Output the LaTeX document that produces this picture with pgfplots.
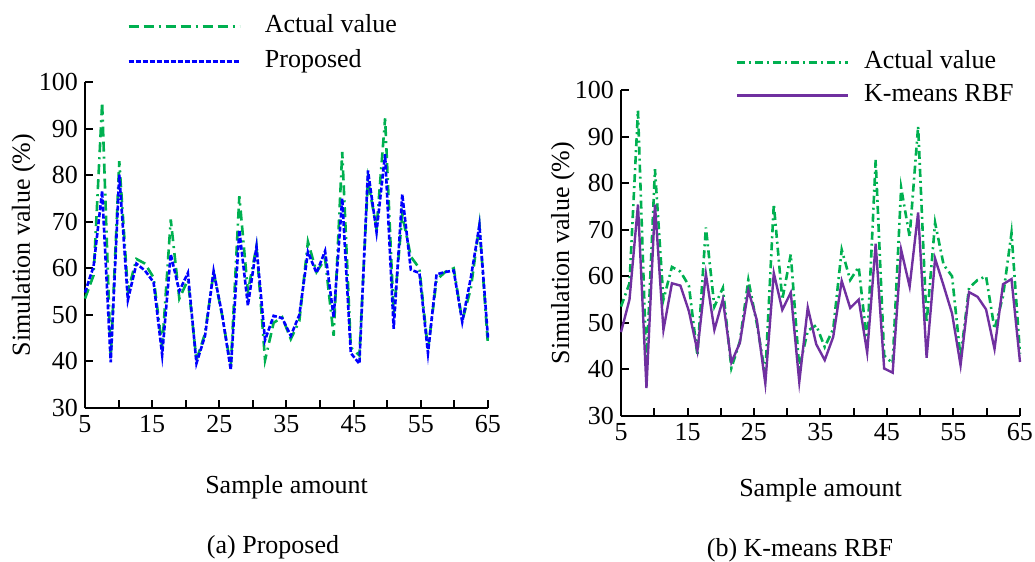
\documentclass[border=0pt]{standalone}
\usepackage{fontspec}
\setmainfont{Liberation Serif}
\usepackage{pgfplots}
\usepackage{pgfplotstable}
\pgfplotsset{compat=1.18}
\definecolor{actgreen}{RGB}{0,176,80}
\definecolor{propblue}{RGB}{0,0,255}
\definecolor{kpurple}{RGB}{112,48,160}
\pgfplotstableread{
x A P K
5.000 53.5 54.8 48.0
6.277 58.5 60.4 55.0
7.553 95.6 76.6 75.4
8.830 40.8 39.8 36.0
10.106 83.0 80.1 75.4
11.383 55.0 53.2 48.5
12.660 62.0 61.0 58.5
13.936 61.0 59.5 58.0
15.213 58.0 57.0 52.5
16.489 43.0 41.4 44.0
17.766 70.5 63.0 60.5
19.043 53.5 55.1 48.5
20.319 57.5 59.0 55.0
21.596 40.3 39.6 41.5
22.872 46.0 45.5 45.7
24.149 59.2 59.4 57.0
25.426 49.8 50.0 50.6
26.702 38.9 38.2 37.0
27.979 75.5 68.2 60.7
29.255 55.0 52.0 52.8
30.532 64.7 64.6 56.5
31.809 40.3 44.6 37.3
33.085 48.3 49.8 53.3
34.362 49.5 49.3 45.4
35.638 44.8 45.5 42.0
36.915 48.7 50.0 47.0
38.191 65.7 63.5 59.0
39.468 59.2 59.0 53.2
40.745 62.0 63.7 55.0
42.021 45.5 49.5 43.6
43.298 85.0 75.0 67.0
44.574 43.0 41.8 40.2
45.851 41.3 39.5 39.3
47.128 79.0 81.0 65.7
48.404 68.5 67.8 57.8
49.681 92.2 84.5 73.7
50.957 50.0 47.0 42.5
52.234 71.5 75.9 63.8
53.511 62.5 59.7 58.0
54.787 60.0 59.0 52.0
56.064 42.5 41.8 40.9
57.340 57.5 58.7 56.6
58.617 59.2 59.2 55.6
59.894 60.0 59.5 52.9
61.170 48.7 48.5 44.4
62.447 55.7 58.0 58.3
63.723 69.3 69.2 59.4
65.000 43.4 45.0 41.6
}\datatable
\pgfplotsset{
  mystyle/.style={
    scale only axis,
    axis lines=left,
    axis line style={black, line width=1.2pt, -},
    xmin=5, xmax=65, ymin=30, ymax=100,
    xtick={5,15,...,65},
    minor xtick={10,20,...,60},
    ytick={30,40,...,100},
    tick align=inside,
    major tick length=4pt,
    minor tick length=4pt,
    tick style={black, line width=1pt},
    /pgf/number format/assume math mode=true,
    tick label style={font=\fontsize{13}{15}\selectfont},
    label style={font=\fontsize{13}{15}\selectfont},
    xlabel={Sample amount},
    ylabel={Simulation value (\%)},
    legend cell align=left,
    legend image code/.code={\draw[##1] (0pt,0pt) -- (55.5pt,0pt);},
    clip=false,
  }
}
\begin{document}
\begin{tikzpicture}
\useasboundingbox (0,0) rectangle (517.5pt,-281pt);
% Left panel
\begin{axis}[mystyle,
  at={(42.5pt,-204pt)}, anchor=south west,
  width=201.5pt, height=163pt,
  x label style={at={(axis description cs:0.5,-0.242)}, anchor=center},
  y label style={at={(axis description cs:-0.152,0.5)}, anchor=center},
  legend style={draw=none, fill=none, at={(axis description cs:0.104,1)}, anchor=south west, yshift=4pt,
    font=\fontsize{13}{15}\selectfont, row sep=5.5pt, inner sep=0pt,
    nodes={inner sep=0pt, text height=9pt, text depth=3pt},
    /tikz/every odd column/.append style={column sep=12pt}},
]
\addplot[actgreen, line width=1.3pt, dash pattern=on 5pt off 2.5pt on 5pt off 2.5pt on 1pt off 2.5pt] table[x=x,y=A] {\datatable};
\addlegendentry{Actual value}
\addplot[propblue, line width=1.3pt, dash pattern=on 2.5pt off 1pt] table[x=x,y=P] {\datatable};
\addlegendentry{Proposed}
\end{axis}
% Right panel
\begin{axis}[mystyle,
  at={(310.5pt,-208pt)}, anchor=south west,
  width=199.5pt, height=163pt,
  x label style={at={(axis description cs:0.5,-0.227)}, anchor=center},
  y label style={at={(axis description cs:-0.146,0.5)}, anchor=center},
  legend style={draw=none, fill=none, at={(axis description cs:0.286,1)}, anchor=south west, yshift=-9pt,
    font=\fontsize{13}{15}\selectfont, row sep=4.5pt, inner sep=0pt,
    nodes={inner sep=0pt, text height=9pt, text depth=3pt},
    /tikz/every odd column/.append style={column sep=7.5pt}},
]
\addplot[actgreen, line width=1.3pt, dash pattern=on 4pt off 2pt on 1pt off 2pt] table[x=x,y=A] {\datatable};
\addlegendentry{Actual value}
\addplot[kpurple, line width=1.2pt] table[x=x,y=K] {\datatable};
\addlegendentry{K-means RBF}
\end{axis}
\node[font=\fontsize{13}{15}\selectfont] at (136.5pt,-273.5pt) {(a) Proposed};
\node[font=\fontsize{13}{15}\selectfont] at (400pt,-275pt) {(b) K-means RBF};
\end{tikzpicture}
\end{document}
